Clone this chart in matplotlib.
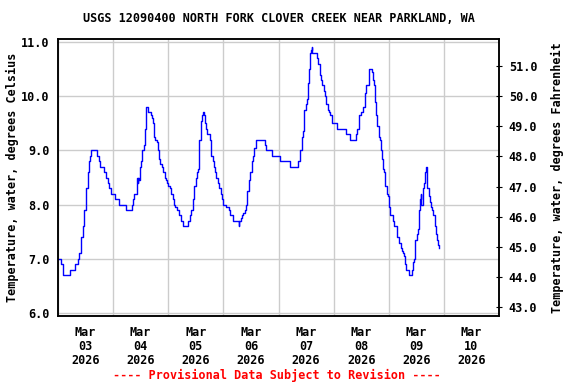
import matplotlib
matplotlib.use("Agg")
import matplotlib.pyplot as plt
import matplotlib.dates as mdates
import matplotlib.ticker as mticker
import pandas as pd
import numpy as np

# Hours since 2026-03-03 00:00 and water temperature (deg C)
hours = [0.0, 1.4, 2.2, 5.1, 7.5, 8.9, 9.2, 9.8, 10.1, 10.7, 11.2, 11.5, 12.1, 12.4,
         13.0, 13.3, 13.6, 13.9, 14.4, 17.0, 17.9, 18.5, 20.0, 21.1, 21.7, 22.3, 22.9,
         24.6, 26.6, 29.5, 32.2, 32.7, 33.3, 34.2, 34.5, 34.8, 35.0, 35.3, 35.6, 35.9,
         36.2, 36.5, 37.4, 38.0, 38.2, 38.5, 39.4, 40.3, 40.9, 41.2, 41.7, 42.0, 42.3,
         42.9, 43.5, 44.1, 44.6, 45.2, 45.8, 46.4, 47.0, 47.5, 48.1, 48.7, 49.3, 49.9,
         50.4, 51.0, 51.6, 52.5, 53.4, 54.5, 56.8, 57.4, 58.0, 58.6, 59.2, 59.4, 60.0,
         60.3, 60.9, 61.2, 61.5, 62.1, 62.4, 62.9, 63.2, 63.5, 63.8, 64.4, 65.0, 66.1,
         66.7, 67.3, 67.9, 68.5, 69.0, 69.6, 70.2, 70.8, 71.4, 71.9, 73.1, 74.3, 74.8,
         76.0, 78.6, 78.9, 79.5, 80.1, 80.6, 81.2, 81.8, 82.4, 83.0, 83.3, 83.7, 84.3,
         84.9, 85.4, 86.3, 90.1, 90.7, 93.3, 96.8, 100.8, 104.6, 105.5, 106.1, 106.6,
         106.9, 107.2, 107.8, 108.4, 108.9, 109.2, 109.5, 109.8, 110.1, 110.4, 110.7,
         112.7, 113.3, 113.9, 114.5, 115.1, 115.6, 116.2, 116.8, 117.4, 118.0, 118.5,
         119.1, 119.4, 121.4, 125.4, 127.1, 129.7, 130.3, 130.9, 131.2, 131.8, 132.9,
         133.5, 133.8, 134.1, 135.2, 135.5, 136.7, 137.0, 137.6, 137.9, 138.1, 138.4,
         139.0, 139.6, 140.2, 140.5, 141.0, 141.3, 141.9, 142.2, 142.5, 143.1, 143.7,
         143.95, 144.2, 144.5, 146.0, 146.3, 147.4, 148.6, 149.2, 149.8, 150.0, 150.6,
         150.9, 151.5, 152.7, 154.1, 154.4, 155.0, 155.3, 155.6, 156.4, 156.7, 157.3,
         157.6, 157.9, 158.2, 159.1, 159.3, 159.6, 159.9, 160.2, 160.5, 160.8, 161.4,
         162.0, 162.5, 162.8, 163.4, 164.0, 164.6, 164.9, 165.4, 165.7]
temps_c = [7.0, 6.9, 6.7, 6.8, 6.9, 7.0, 7.1, 7.3, 7.4, 7.6, 7.8, 7.9, 8.0, 8.3,
           8.6, 8.7, 8.8, 8.9, 9.0, 8.9, 8.8, 8.7, 8.6, 8.5, 8.4, 8.3, 8.2,
           8.1, 8.0, 7.9, 8.0, 8.1, 8.2, 8.35, 8.5, 8.4, 8.5, 8.45, 8.5, 8.7,
           8.8, 9.0, 9.1, 9.4, 9.7, 9.8, 9.7, 9.65, 9.6, 9.5, 9.4, 9.25, 9.2,
           9.15, 9.0, 8.85, 8.75, 8.7, 8.6, 8.5, 8.45, 8.4, 8.35, 8.3, 8.2, 8.1,
           8.0, 7.95, 7.9, 7.8, 7.7, 7.6, 7.7, 7.8, 7.9, 8.1, 8.15, 8.35, 8.5,
           8.6, 8.65, 8.95, 9.2, 9.45, 9.55, 9.65, 9.7, 9.65, 9.5, 9.4, 9.3, 9.2,
           8.9, 8.8, 8.7, 8.6, 8.5, 8.4, 8.3, 8.2, 8.1, 8.0, 7.95, 7.9, 7.8,
           7.7, 7.6, 7.7, 7.75, 7.8, 7.85, 7.9, 8.0, 8.25, 8.3, 8.45, 8.6, 8.8,
           8.9, 9.05, 9.2, 9.1, 9.0, 8.9, 8.8, 8.7, 8.8, 9.0, 9.25, 9.35,
           9.55, 9.75, 9.85, 9.95, 10.25, 10.5, 10.7, 10.8, 10.85, 10.9, 10.8,
           10.7, 10.6, 10.4, 10.3, 10.2, 10.1, 10.0, 9.85, 9.75, 9.7, 9.65,
           9.6, 9.5, 9.4, 9.3, 9.2, 9.3, 9.4, 9.5, 9.65, 9.7, 9.8,
           9.85, 10.05, 10.2, 10.3, 10.5, 10.45, 10.3, 10.2, 10.0, 9.9, 9.65,
           9.45, 9.25, 9.2, 9.0, 8.85, 8.65, 8.6, 8.45, 8.35, 8.2, 8.15,
           8.05, 7.95, 7.8, 7.7, 7.6, 7.4, 7.3, 7.2, 7.15, 7.1, 7.05,
           6.9, 6.8, 6.7, 6.8, 6.95, 7.0, 7.1, 7.35, 7.45, 7.55, 7.9,
           8.1, 8.2, 8.0, 8.3, 8.4, 8.55, 8.6, 8.7, 8.6, 8.3, 8.15,
           8.05, 7.95, 7.9, 7.8, 7.6, 7.45, 7.35, 7.25, 7.2]

start_date = "2026-03-03"
end_date = "2026-03-11"
celsius_ticks = [6.0, 7.0, 8.0, 9.0, 10.0, 11.0]
fahrenheit_ticks = [43.0, 44.0, 45.0, 46.0, 47.0, 48.0, 49.0, 50.0, 51.0]

title = "USGS 12090400 NORTH FORK CLOVER CREEK NEAR PARKLAND, WA"
left_label = "Temperature, water, degrees Celsius"
right_label = "Temperature, water, degrees Fahrenheit"
footer = "---- Provisional Data Subject to Revision ----"

FONT = "DejaVu Sans Mono"
FS = 8.5

times = pd.Timestamp(start_date) + pd.to_timedelta(hours, unit="h")

fig = plt.figure(figsize=(5.76, 3.84), dpi=100)
ax = fig.add_axes([58 / 576, 1 - 316 / 384, 441 / 576, 277 / 384])

ax.plot(times, temps_c, color="#0000ff", lw=1.0, drawstyle="steps-post")

ymin, ymax = 5.945, 11.055
ax.set_ylim(ymin, ymax)
ax.set_xlim(pd.Timestamp(start_date), pd.Timestamp(end_date))
ax.set_yticks(celsius_ticks)
ax.yaxis.set_major_formatter(mticker.FormatStrFormatter("%.1f"))

ax.xaxis.set_major_locator(mdates.DayLocator())
ax.xaxis.set_major_formatter(mticker.NullFormatter())
ax.xaxis.set_minor_locator(mdates.HourLocator(byhour=[12]))
ax.xaxis.set_minor_formatter(mdates.DateFormatter("%b\n%d\n%Y"))

ax.grid(True, which="major", color="#cccccc", lw=1.0)
ax.set_axisbelow(True)
ax.tick_params(axis="x", which="both", length=0, pad=7)
ax.tick_params(axis="y", length=0, pad=6)
for lbl in ax.get_xticklabels(minor=True):
    lbl.set_fontfamily(FONT)
    lbl.set_fontweight("bold")
    lbl.set_fontsize(FS)
    lbl.set_linespacing(1.12)
for lbl in ax.get_yticklabels():
    lbl.set_fontfamily(FONT)
    lbl.set_fontweight("bold")
    lbl.set_fontsize(FS)
for s in ax.spines.values():
    s.set_linewidth(1.1)
    s.set_color("black")

ax.set_ylabel(left_label, fontfamily=FONT, fontweight="bold", fontsize=FS, labelpad=1.5)

ax2 = ax.twinx()
ax2.set_ylim(ymin * 9 / 5 + 32, ymax * 9 / 5 + 32)
ax2.set_yticks(fahrenheit_ticks)
ax2.yaxis.set_major_formatter(mticker.FormatStrFormatter("%.1f"))
ax2.tick_params(axis="y", direction="inout", length=4, width=0.8, pad=5)
for lbl in ax2.get_yticklabels():
    lbl.set_fontfamily(FONT)
    lbl.set_fontweight("bold")
    lbl.set_fontsize(FS)
ax2.set_ylabel(right_label, fontfamily=FONT, fontweight="bold", fontsize=FS, labelpad=10)
for s in ax2.spines.values():
    s.set_linewidth(1.1)

fig.text((58 + 499) / 2 / 576, 1 - 19 / 384, title, ha="center", va="center",
         fontfamily=FONT, fontweight="bold", fontsize=FS)
fig.text(277 / 576, 1 - 375 / 384, footer, ha="center", va="center",
         fontfamily=FONT, fontweight="bold", fontsize=FS, color="#ff0000")

fig.savefig("out.png", dpi=100)
